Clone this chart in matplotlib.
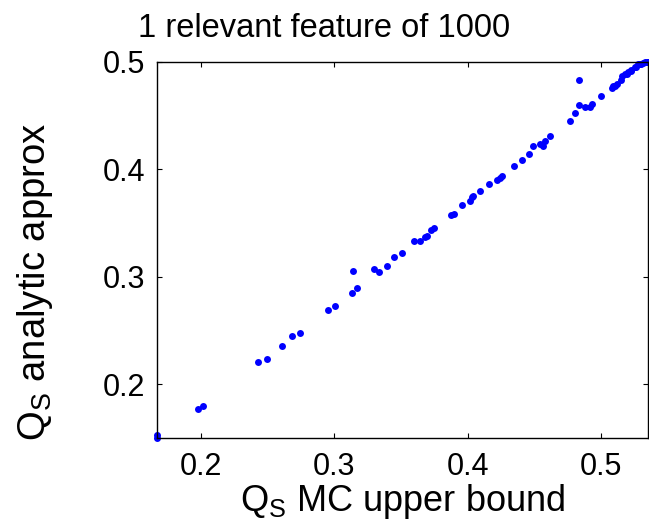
import matplotlib
matplotlib.use("Agg")
import matplotlib.pyplot as plt

plt.rcParams['font.family'] = ['Liberation Sans', 'DejaVu Sans']
plt.rcParams['mathtext.fontset'] = 'custom'
plt.rcParams['mathtext.rm'] = 'Liberation Sans'
plt.rcParams['mathtext.it'] = 'Liberation Sans'

# Monte Carlo upper bound vs. analytic approximation of Q_S
q_mc = [0.1675, 0.1675, 0.1978, 0.2015, 0.2429, 0.2494, 0.2609, 0.2686, 0.2746, 0.2953,
        0.3006, 0.3136, 0.3170, 0.3143, 0.3298, 0.3335, 0.3393, 0.3447, 0.3510, 0.3597,
        0.3642, 0.3680, 0.3695, 0.3725, 0.3744, 0.3874, 0.3897, 0.3957, 0.4019, 0.4029,
        0.4036, 0.4094, 0.4161, 0.4218, 0.4238, 0.4256, 0.4348, 0.4406, 0.4456, 0.4486,
        0.4538, 0.4563, 0.4581, 0.4618, 0.4768, 0.4803, 0.4830, 0.4835, 0.4880, 0.4915,
        0.4930, 0.5000, 0.5080, 0.5088, 0.5100, 0.5115, 0.5150, 0.5157, 0.5180, 0.5189,
        0.5202, 0.5219, 0.5226, 0.5252, 0.5263, 0.5277, 0.5289, 0.5301, 0.5314, 0.5325,
        0.5339, 0.5350]
q_analytic = [0.1525, 0.1500, 0.1767, 0.1798, 0.2208, 0.2236, 0.2357, 0.2453, 0.2478, 0.2691,
              0.2732, 0.2850, 0.2896, 0.3057, 0.3070, 0.3042, 0.3101, 0.3184, 0.3225, 0.3333,
              0.3333, 0.3367, 0.3383, 0.3439, 0.3454, 0.3572, 0.3588, 0.3665, 0.3705, 0.3743,
              0.3752, 0.3795, 0.3867, 0.3898, 0.3919, 0.3941, 0.4031, 0.4081, 0.4140, 0.4214,
              0.4239, 0.4217, 0.4260, 0.4313, 0.4447, 0.4521, 0.4595, 0.4825, 0.4574, 0.4574,
              0.4611, 0.4685, 0.4753, 0.4772, 0.4775, 0.4791, 0.4834, 0.4868, 0.4884, 0.4890,
              0.4902, 0.4915, 0.4921, 0.4952, 0.4952, 0.4977, 0.4983, 0.4983, 0.4992, 0.4998,
              0.4998, 0.5000]
x_ticks = [0.2, 0.3, 0.4, 0.5]
y_ticks = [0.2, 0.3, 0.4, 0.5]

fig = plt.figure(figsize=(6.49, 5.29), dpi=100)
ax = fig.add_axes([0.2424, 0.172, 0.7561, 0.7114])

ax.plot(q_mc, q_analytic, 'o', color=(0, 0, 1), ms=5, mew=0, clip_on=False)

ax.set_xlim(min(q_mc), max(q_mc))
ax.set_ylim(min(q_analytic), max(q_analytic))
ax.set_xticks(x_ticks)
ax.set_yticks(y_ticks)
ax.set_xticklabels([f"{t:.1f}" for t in x_ticks])
ax.set_yticklabels([f"{t:.1f}" for t in y_ticks])
ax.tick_params(direction='in', top=True, right=True, length=3.5, width=0.8,
               labelsize=22)
ax.tick_params(axis='x', pad=10)
ax.tick_params(axis='y', pad=9)
for sp in ax.spines.values():
    sp.set_linewidth(1.0)

fig.text(0.5, 0.9306, "1 relevant feature of 1000", ha='center', va='baseline',
         fontsize=23.5)
fig.text(0.6205, 0.0346, r"Q$_{\rm S}$ MC upper bound", ha='center', va='baseline',
         fontsize=26)
fig.text(0.054, 0.468, r"Q$_{\rm S}$ analytic approx", ha='center', va='center',
         rotation=90, fontsize=27.5)

fig.savefig("out.png", dpi=100)
